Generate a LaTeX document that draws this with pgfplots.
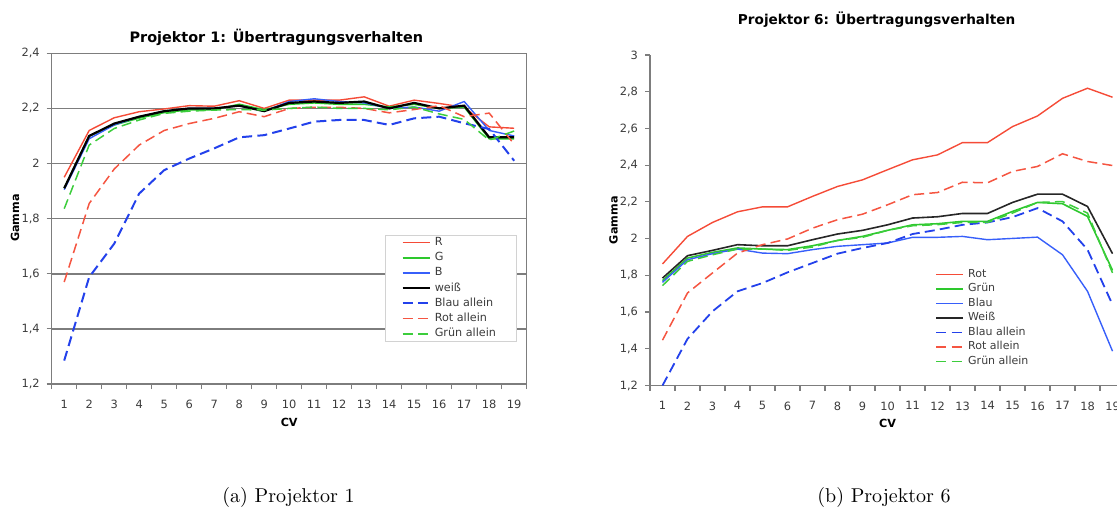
\documentclass[border=0pt]{standalone}
\usepackage{fontspec}
\usepackage{pgfplots}
\usepackage{pgfplotstable}
\pgfplotsset{compat=1.18}
\newfontfamily\dv{DejaVu Sans}
\definecolor{cR}{RGB}{245,75,55}
\definecolor{cG}{RGB}{45,200,45}
\definecolor{cB}{RGB}{55,95,250}
\definecolor{cBd}{RGB}{35,65,235}
\definecolor{cRd}{RGB}{245,85,65}
\definecolor{cGd}{RGB}{60,205,60}
\definecolor{gridc}{RGB}{125,125,125}
\definecolor{tickc}{RGB}{60,60,60}

\pgfplotstableread{
x R G B W Bd Rd Gd
1 1.95 1.91 1.905 1.91 1.285 1.57 1.836
2 2.12 2.10 2.09 2.10 1.588 1.855 2.067
3 2.166 2.14 2.14 2.145 1.709 1.98 2.127
4 2.188 2.165 2.17 2.17 1.891 2.067 2.158
5 2.198 2.185 2.19 2.19 1.976 2.12 2.182
6 2.21 2.195 2.20 2.20 2.018 2.145 2.19
7 2.208 2.195 2.20 2.20 2.055 2.164 2.194
8 2.228 2.215 2.21 2.21 2.095 2.188 2.196
9 2.2 2.195 2.19 2.19 2.103 2.17 2.194
10 2.23 2.215 2.225 2.22 2.127 2.2 2.2
11 2.23 2.22 2.235 2.225 2.152 2.204 2.205
12 2.23 2.215 2.225 2.22 2.158 2.204 2.2
13 2.242 2.215 2.22 2.225 2.158 2.2 2.2
14 2.208 2.205 2.2 2.2 2.14 2.184 2.195
15 2.23 2.215 2.205 2.22 2.164 2.196 2.205
16 2.218 2.2 2.19 2.2 2.17 2.21 2.18
17 2.204 2.205 2.225 2.21 2.146 2.17 2.16
18 2.133 2.09 2.12 2.095 2.125 2.183 2.085
19 2.128 2.09 2.10 2.095 2.01 2.07 2.118
}\leftdata

\pgfplotstableread{
x R G B W Bd Rd Gd
1 1.862 1.771 1.762 1.785 1.20 1.447 1.744
2 2.012 1.894 1.885 1.907 1.454 1.704 1.876
3 2.088 1.925 1.918 1.936 1.604 1.813 1.912
4 2.146 1.949 1.943 1.967 1.713 1.921 1.943
5 2.173 1.943 1.921 1.961 1.758 1.967 1.943
6 2.173 1.94 1.918 1.961 1.816 1.998 1.936
7 2.23 1.961 1.94 1.994 1.867 2.057 1.954
8 2.284 1.99 1.958 2.025 1.918 2.103 1.99
9 2.32 2.012 1.967 2.045 1.949 2.133 2.007
10 2.375 2.045 1.976 2.075 1.976 2.184 2.045
11 2.429 2.075 2.007 2.112 2.025 2.239 2.07
12 2.456 2.081 2.007 2.119 2.048 2.251 2.076
13 2.523 2.094 2.012 2.137 2.075 2.307 2.088
14 2.523 2.094 1.994 2.137 2.088 2.304 2.088
15 2.61 2.148 2.001 2.197 2.117 2.366 2.139
16 2.668 2.197 2.008 2.242 2.166 2.393 2.197
17 2.764 2.19 1.912 2.242 2.094 2.462 2.202
18 2.819 2.121 1.713 2.175 1.94 2.42 2.139
19 2.77 1.827 1.387 1.918 1.64 2.398 1.813
}\rightdata

\pgfplotsset{
  common/.style={
    scale only axis, width=237.5pt, anchor=south west,
    xmin=0.5, xmax=19.5,
    tick align=outside, tick pos=left,
    major tick length=2.5pt,
    xtick={0.5,1.5,...,19.5}, xticklabels={},
    extra x ticks={1,2,...,19},
    extra x tick labels={1,2,3,4,5,6,7,8,9,10,11,12,13,14,15,16,17,18,19},
    extra x tick style={major tick length=0pt, xticklabel style={yshift=-4.5pt}},
    tick label style={font=\fontsize{5.7}{6.5}\dv, text=tickc},
    tick style={gridc, line width=0.6pt},
    axis line style={gridc, line width=0.75pt},
    xlabel={CV}, ylabel={Gamma},
    label style={font=\fontsize{5.6}{6.5}\dv\bfseries, text=black},
    xlabel style={at={(0.5,-0.115)}, anchor=center},
    every axis title shift=0pt,
    legend cell align=left,
    dsh/.style={dash pattern=on 5pt off 2.6pt},
  },
}

\begin{document}
\begin{tikzpicture}
\path[use as bounding box] (0,0) rectangle (558.5pt,257pt);
\clip (0,0) rectangle (558.5pt,257pt);

\begin{axis}[common,
  at={(25.85pt,65pt)}, height=165.35pt,
  ymin=1.2, ymax=2.4,
  ytick={1.2,1.4,1.6,1.8,2.0,2.2,2.4},
  yticklabels={{1,2},{1,4},{1,6},{1,8},{2},{2,2},{2,4}},
  ymajorgrids, grid style={gridc, line width=0.75pt},
  title={Projektor 1: Übertragungsverhalten},
  title style={at={(0.473,1.049)}, anchor=center, font=\fontsize{7.2}{8}\dv\bfseries},
  ylabel style={at={(-0.0773,0.502)}, anchor=center},
  legend image code/.code={\draw[#1] (0pt,0pt) -- (13.5pt,0pt);},
  legend style={at={(0.702,0.4506)}, anchor=north west, draw=gray!35, fill=white,
    font=\fontsize{5.6}{6.5}\dv, text=tickc, inner xsep=8pt, inner ysep=1pt,
    row sep=2.3pt,
    nodes={inner ysep=0pt, text height=4.1pt, text depth=1.2pt}},
]
\addplot[cR, line width=0.7pt] table[x=x,y=R]{\leftdata};
\addlegendentry{R}
\addplot[cG, line width=0.8pt] table[x=x,y=G]{\leftdata};
\addlegendentry{G}
\addplot[cB, line width=0.7pt] table[x=x,y=B]{\leftdata};
\addlegendentry{B}
\addplot[black, line width=1.1pt] table[x=x,y=W]{\leftdata};
\addlegendentry{weiß}
\addplot[cBd, line width=1.0pt, dsh] table[x=x,y=Bd]{\leftdata};
\addlegendentry{Blau allein}
\addplot[cRd, line width=0.75pt, dsh] table[x=x,y=Rd]{\leftdata};
\addlegendentry{Rot allein}
\addplot[cGd, line width=0.75pt, dsh] table[x=x,y=Gd]{\leftdata};
\addlegendentry{Grün allein}
\end{axis}

\begin{axis}[common,
  at={(325pt,64.25pt)}, height=165.25pt,
  ymin=1.2, ymax=3,
  axis x line*=bottom, axis y line*=left,
  ytick={1.2,1.4,1.6,1.8,2.0,2.2,2.4,2.6,2.8,3.0},
  yticklabels={{1,2},{1,4},{1,6},{1,8},{2},{2,2},{2,4},{2,6},{2,8},{3}},
  title={Projektor 6: Übertragungsverhalten},
  title style={at={(0.477,1.106)}, anchor=center, font=\fontsize{6.8}{8}\dv\bfseries},
  ylabel style={at={(-0.0768,0.5)}, anchor=center},
  legend image code/.code={\draw[#1] (0pt,0pt) -- (13.5pt,0pt);},
  legend style={at={(0.6,0.353)}, anchor=north west, draw=white, fill=white,
    font=\fontsize{5.5}{6.5}\dv, text=tickc, inner xsep=0pt, inner ysep=0pt,
    row sep=2.05pt,
    nodes={inner ysep=0pt, text height=4pt, text depth=1.2pt}},
]
\addplot[cR, line width=0.7pt] table[x=x,y=R]{\rightdata};
\addlegendentry{Rot}
\addplot[cG, line width=0.8pt] table[x=x,y=G]{\rightdata};
\addlegendentry{Grün}
\addplot[cB, line width=0.7pt] table[x=x,y=B]{\rightdata};
\addlegendentry{Blau}
\addplot[black!85, line width=0.8pt] table[x=x,y=W]{\rightdata};
\addlegendentry{Weiß}
\addplot[cBd, line width=0.9pt, dsh] table[x=x,y=Bd]{\rightdata};
\addlegendentry{Blau allein}
\addplot[cRd, line width=0.75pt, dsh] table[x=x,y=Rd]{\rightdata};
\addlegendentry{Rot allein}
\addplot[cGd, line width=0.75pt, dsh] table[x=x,y=Gd]{\rightdata};
\addlegendentry{Grün allein}
\end{axis}

\node[font=\fontsize{10}{12}\selectfont] at (144.25pt,8.5pt) {(a) Projektor 1};
\node[font=\fontsize{10}{12}\selectfont] at (442pt,8.5pt) {(b) Projektor 6};
\end{tikzpicture}
\end{document}
